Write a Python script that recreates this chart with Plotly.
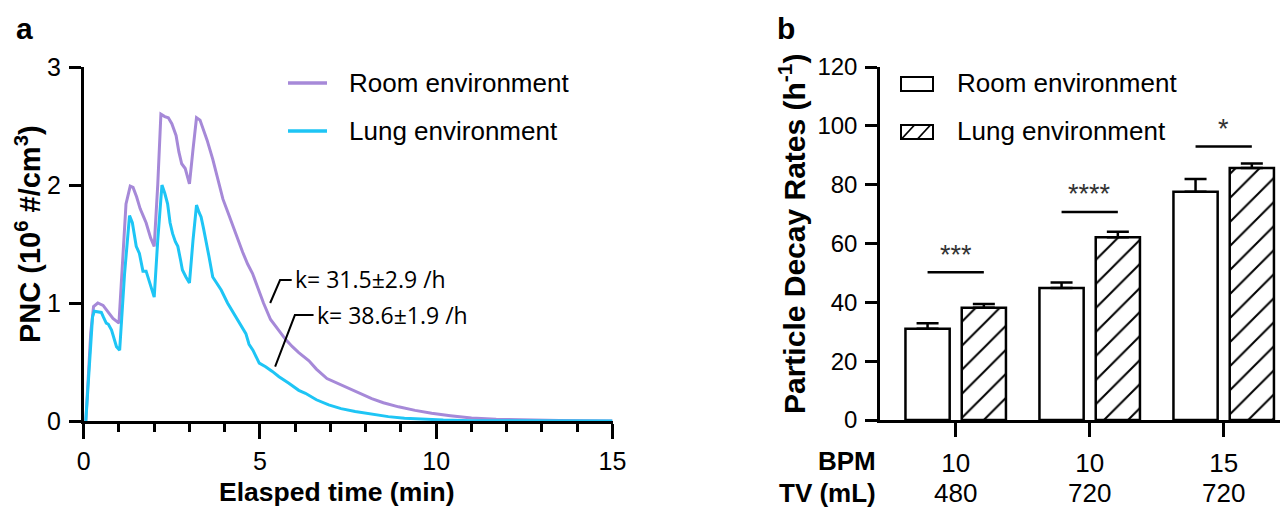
import plotly.graph_objects as go

# ---------------- data ----------------
room_t = [0.06, 0.2, 0.28, 0.4, 0.55, 0.7, 0.83, 1.0, 1.12, 1.2, 1.32, 1.4, 1.5, 1.6, 1.7, 1.77,
          1.9, 2.0, 2.1, 2.19, 2.3, 2.4, 2.5, 2.62, 2.7, 2.78, 2.88, 3.0, 3.1, 3.2, 3.3, 3.4,
          3.5, 3.66, 3.8, 3.95, 4.1, 4.23, 4.4, 4.51, 4.65, 4.79, 4.95, 5.1, 5.3, 5.54, 5.73,
          5.92, 6.1, 6.39, 6.6, 6.9, 7.2, 7.42, 7.8, 8.17, 8.5, 8.93, 9.4, 9.87, 10.4, 11.0,
          11.7, 12.4, 13.5, 15.0]
room_pnc = [0.0, 0.75, 0.97, 1.0, 0.98, 0.92, 0.87, 0.83, 1.5, 1.84, 1.99, 1.98, 1.9, 1.8, 1.73, 1.68,
            1.55, 1.48, 2.0, 2.6, 2.58, 2.57, 2.52, 2.42, 2.28, 2.18, 2.14, 2.01, 2.3, 2.57, 2.55, 2.47,
            2.38, 2.22, 2.05, 1.88, 1.76, 1.65, 1.52, 1.43, 1.33, 1.25, 1.12, 1.0, 0.86, 0.76, 0.69,
            0.63, 0.58, 0.51, 0.44, 0.36, 0.32, 0.29, 0.24, 0.19, 0.155, 0.12, 0.09, 0.065, 0.045, 0.025,
            0.014, 0.008, 0.004, 0.0]

lung_t = [0.06, 0.2, 0.25, 0.3, 0.5, 0.56, 0.64, 0.7, 0.79, 0.93, 1.02, 1.16, 1.3, 1.38, 1.45, 1.49,
          1.58, 1.68, 1.77, 1.88, 2.0, 2.1, 2.22, 2.3, 2.38, 2.45, 2.52, 2.6, 2.67, 2.75, 2.8, 2.9,
          3.0, 3.1, 3.2, 3.27, 3.33, 3.4, 3.47, 3.55, 3.66, 3.8, 3.9, 4.08, 4.2, 4.32, 4.45, 4.6,
          4.69, 4.8, 4.98, 5.16, 5.35, 5.54, 5.82, 6.1, 6.29, 6.6, 6.95, 7.3, 7.7, 8.2, 8.64, 9.1,
          9.58, 10.2, 11.0, 12.0, 15.0]
lung_pnc = [0.0, 0.7, 0.88, 0.93, 0.92, 0.88, 0.83, 0.82, 0.77, 0.63, 0.6, 1.25, 1.74, 1.68, 1.55, 1.48,
            1.42, 1.27, 1.27, 1.17, 1.05, 1.53, 2.0, 1.93, 1.84, 1.68, 1.59, 1.52, 1.48, 1.36, 1.28, 1.22,
            1.17, 1.53, 1.83, 1.77, 1.73, 1.63, 1.53, 1.4, 1.22, 1.15, 1.11, 1.0, 0.94, 0.88, 0.81, 0.74,
            0.65, 0.6, 0.49, 0.46, 0.42, 0.375, 0.32, 0.26, 0.235, 0.18, 0.136, 0.105, 0.08, 0.055, 0.037, 0.024,
            0.015, 0.008, 0.003, 0.001, 0.0]

k_labels = ["k= 31.5±2.9 /h", "k= 38.6±1.9 /h"]

groups = [0, 1, 2]
bpm = ["10", "10", "15"]
tv = ["480", "720", "720"]
room_rate = [31.0, 44.9, 77.6]
room_err = [1.9, 1.8, 4.3]
lung_rate = [38.2, 62.1, 85.7]
lung_err = [1.2, 1.9, 1.5]
sig_text = ["***", "****", "*"]
sig_level = [50.2, 70.7, 93.0]

series_names = ["Room environment", "Lung environment"]

# ---------------- style ----------------
# the page body has an 8px margin, so the figure is drawn 8px in from the window edges
OFF = 8
W, H = 1288 - OFF, 508 - OFF
PURPLE = "#a689d8"
CYAN = "#1ec5f5"
FONT = "Liberation Sans, Arial, sans-serif"
LW = 2.5


def PX(px):
    return (px - OFF) / W


def PY(py):
    return (H - (py - OFF)) / H


fig = go.Figure()

# ---- panel a: lines ----
fig.add_trace(go.Scatter(x=room_t, y=room_pnc, mode="lines", name=series_names[0],
                         line=dict(color=PURPLE, width=3), xaxis="x", yaxis="y", showlegend=False))
fig.add_trace(go.Scatter(x=lung_t, y=lung_pnc, mode="lines", name=series_names[1],
                         line=dict(color=CYAN, width=3), xaxis="x", yaxis="y", showlegend=False))

# ---- panel b: bars ----
BW = 0.33
fig.add_trace(go.Bar(x=groups, y=room_rate, width=BW, offset=-0.375, name=series_names[0],
                     marker=dict(color="white", line=dict(color="black", width=LW)),
                     error_y=dict(type="data", array=room_err, arrayminus=[0] * 3, symmetric=False,
                                  color="black", thickness=LW, width=11),
                     xaxis="x2", yaxis="y2", showlegend=False))
fig.add_trace(go.Bar(x=groups, y=lung_rate, width=BW, offset=0.045, name=series_names[1],
                     marker=dict(color="white", line=dict(color="black", width=LW),
                                 pattern=dict(shape="/", fgcolor="black", bgcolor="white",
                                              fgopacity=1, fillmode="replace",
                                              size=17, solidity=0.12)),
                     error_y=dict(type="data", array=lung_err, arrayminus=[0] * 3, symmetric=False,
                                  color="black", thickness=LW, width=11),
                     xaxis="x2", yaxis="y2", showlegend=False))

shapes = []
annotations = []


def ann(**kw):
    kw.setdefault("showarrow", False)
    kw.setdefault("xanchor", "center")
    kw.setdefault("yanchor", "middle")
    annotations.append(kw)


# significance bars
for g, lvl, txt in zip(groups, sig_level, sig_text):
    shapes.append(dict(type="line", xref="x2", yref="y2", x0=g - 0.21, x1=g + 0.21,
                       y0=lvl, y1=lvl, line=dict(color="black", width=LW)))
    ann(xref="x2", yref="y2", x=g, y=lvl + 6.0, text=txt,
        font=dict(family=FONT, size=27, color="#333"))

# leader lines + k labels on panel a
shapes.append(dict(type="path", xref="x", yref="y",
                   path="M 5.29 1.0 L 5.57 1.195 L 5.90 1.195",
                   line=dict(color="black", width=2)))
shapes.append(dict(type="path", xref="x", yref="y",
                   path="M 5.43 0.46 L 5.99 0.898 L 6.52 0.898",
                   line=dict(color="black", width=2)))
ann(xref="x", yref="y", x=5.93, y=1.20, text=k_labels[0], xanchor="left",
    font=dict(family="Open Sans", size=23, color="black"))
ann(xref="x", yref="y", x=6.56, y=0.895, text=k_labels[1], xanchor="left",
    font=dict(family="Open Sans", size=23, color="black"))

# legend for panel a (line samples)
for yy, col, nm in [(83, PURPLE, series_names[0]), (131, CYAN, series_names[1])]:
    shapes.append(dict(type="line", xref="paper", yref="paper", x0=PX(288), x1=PX(327),
                       y0=PY(yy), y1=PY(yy), line=dict(color=col, width=3.5)))
    ann(xref="paper", yref="paper", x=PX(347), y=PY(yy), text=nm, xanchor="left",
        font=dict(family=FONT, size=26, color="black"))

# legend for panel b (boxes)
shapes.append(dict(type="rect", xref="paper", yref="paper", x0=PX(901), x1=PX(933),
                   y0=PY(91), y1=PY(77), line=dict(color="black", width=2), fillcolor="white"))
shapes.append(dict(type="rect", xref="paper", yref="paper", x0=PX(901), x1=PX(933),
                   y0=PY(139), y1=PY(125), line=dict(color="black", width=2), fillcolor="white"))
for a, b in [(902, 914), (918, 930)]:
    shapes.append(dict(type="line", xref="paper", yref="paper", x0=PX(a), x1=PX(b),
                       y0=PY(138.5), y1=PY(125.5), line=dict(color="black", width=1.8)))
for yy, nm in [(83, series_names[0]), (131, series_names[1])]:
    ann(xref="paper", yref="paper", x=PX(955), y=PY(yy), text=nm, xanchor="left",
        font=dict(family=FONT, size=26, color="black"))

# axis titles & panel labels
ann(xref="paper", yref="paper", x=PX(24), y=PY(28), text="<b>a</b>",
    font=dict(family=FONT, size=30, color="black"))
ann(xref="paper", yref="paper", x=PX(786), y=PY(28), text="<b>b</b>",
    font=dict(family=FONT, size=30, color="black"))
ann(xref="paper", yref="paper", x=PX(28), y=PY(234), textangle=-90,
    text="<b>PNC (10<sup>6</sup> #/cm<sup>3</sup>)</b>",
    font=dict(family=FONT, size=29, color="black"))
ann(xref="paper", yref="paper", x=PX(337), y=PY(492), text="<b>Elasped time (min)</b>",
    font=dict(family=FONT, size=26.5, color="black"))
ann(xref="paper", yref="paper", x=PX(792), y=PY(234), textangle=-90,
    text="<b>Particle Decay Rates (h<sup>-1</sup>)</b>",
    font=dict(family=FONT, size=30, color="black"))
ann(xref="paper", yref="paper", x=PX(878), y=PY(461), text="<b>BPM</b>", xanchor="right",
    font=dict(family=FONT, size=26, color="black"))
ann(xref="paper", yref="paper", x=PX(878), y=PY(493), text="<b>TV (mL)</b>", xanchor="right",
    font=dict(family=FONT, size=26, color="black"))
for g, t in zip(groups, tv):
    ann(xref="x2", yref="paper", x=g, y=PY(493), text=t,
        font=dict(family=FONT, size=26, color="black"))

axis_common = dict(showline=True, linecolor="black", linewidth=LW, ticks="outside",
                   tickcolor="black", tickwidth=LW, showgrid=False, zeroline=False,
                   automargin=False,
                   tickfont=dict(family=FONT, size=25, color="black"))

fig.update_layout(
    template="none",
    width=W, height=H, margin=dict(l=0, r=0, t=0, b=0, pad=0),
    paper_bgcolor="white", plot_bgcolor="white", showlegend=False,
    xaxis=dict(domain=[PX(83.7), PX(612.5)], range=[0, 15], anchor="y",
               tickvals=[0, 5, 10, 15], ticklen=15, ticklabelstandoff=1,
               minor=dict(dtick=1, ticks="outside", ticklen=8, tickwidth=LW, tickcolor="black"),
               **axis_common),
    yaxis=dict(domain=[PY(421), PY(67)], range=[0, 3], anchor="x", dtick=1, ticklen=12,
               ticklabelstandoff=3, **axis_common),
    xaxis2=dict(domain=[PX(880), PX(1286)], range=[-0.565, 2.465], anchor="y2",
                tickvals=groups, ticktext=bpm, ticklen=14, ticklabelstandoff=4,
                **{**axis_common, "tickfont": dict(family=FONT, size=26, color="black")}),
    yaxis2=dict(domain=[PY(420), PY(67)], range=[0, 120], anchor="x2", dtick=20, ticklen=12,
                ticklabelstandoff=3,
                **{**axis_common, "tickfont": dict(family=FONT, size=24, color="black")}),
    barmode="overlay",
    shapes=shapes, annotations=annotations,
)

fig.write_html("out.html")
